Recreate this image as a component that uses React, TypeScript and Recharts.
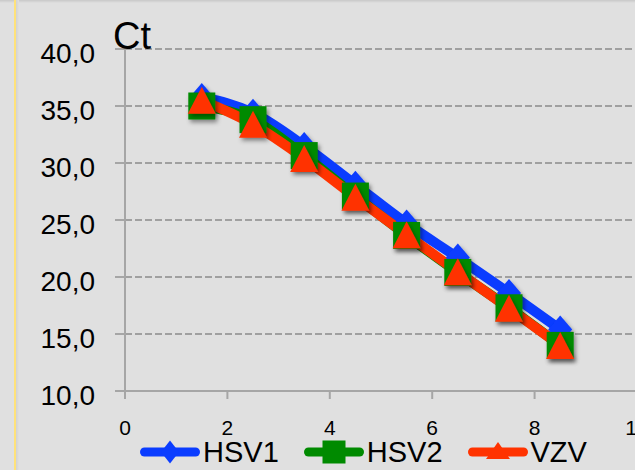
import React from 'react';
import { LineChart, Line, XAxis, YAxis, CartesianGrid, Legend, Label } from 'recharts';

const xValues = [1.5, 2.5, 3.5, 4.5, 5.5, 6.5, 7.5, 8.5];
const hsv1 = [35.8, 34.4, 31.5, 28.1, 24.7, 21.7, 18.6, 15.4];
const hsv2 = [35.0, 33.8, 30.65, 27.1, 23.65, 20.4, 17.3, 14.0];
const vzv = [35.5, 33.4, 30.4, 27.0, 23.7, 20.45, 17.25, 14.0];
const xTicks = [0, 2, 4, 6, 8, 10];
const yTicks = [10, 15, 20, 25, 30, 35, 40];
const seriesNames = ['HSV1', 'HSV2', 'VZV'];
const axisTitle = 'Ct';

const data = xValues.map((x, i) => ({ x, HSV1: hsv1[i], HSV2: hsv2[i], VZV: vzv[i] }));

const colors: Record<string, string> = { HSV1: '#0a3cff', HSV2: '#008a00', VZV: '#ff3300' };
const shapes: Record<string, string> = { HSV1: 'diamond', HSV2: 'square', VZV: 'triangle' };

const FONT = '"Liberation Sans", Arial, sans-serif';

function Marker({ cx, cy, shape, fill, scale = 1, shadow = true }: any) {
  const f = shadow ? 'url(#mkshadow)' : undefined;
  if (shape === 'diamond') {
    const w = 12 * scale, h = 14 * scale;
    return <path d={`M${cx},${cy - h} L${cx + w},${cy} L${cx},${cy + h} L${cx - w},${cy} Z`} fill={fill} filter={f} />;
  }
  if (shape === 'square') {
    const s = 13.5 * scale;
    return <rect x={cx - s} y={cy - s} width={2 * s} height={2 * s} fill={fill} filter={f} />;
  }
  const s = 14 * scale;
  return <path d={`M${cx},${cy - 13.5 * scale} L${cx + s},${cy + 13.5 * scale} L${cx - s},${cy + 13.5 * scale} Z`} fill={fill} filter={f} />;
}

const makeDot = (name: string) => (p: any) => (
  <Marker key={`${name}-${p.index}`} cx={p.cx} cy={p.cy} shape={shapes[name]} fill={colors[name]} />
);

const YTick = ({ x, y, payload }: any) => (
  <text x={x} y={y + 4} textAnchor="end" dominantBaseline="central" fontSize={28} fill="#000" fontFamily={FONT}>
    {Number(payload.value).toFixed(1).replace('.', ',')}
  </text>
);

const XTick = ({ x, y, payload }: any) => (
  <text x={x} y={y} dy="0.71em" textAnchor="middle" fontSize={21} fill="#000" fontFamily={FONT}>
    {payload.value}
  </text>
);

const LegendContent = () => (
  <div style={{ display: 'flex', alignItems: 'center', height: 30, paddingLeft: 140, fontFamily: FONT }}>
    {seriesNames.map((n) => (
      <div key={n} style={{ display: 'flex', alignItems: 'center' }}>
        <svg width={60} height={30} style={{ display: 'block', overflow: 'visible' }}>
          <line x1={4.5} x2={55.5} y1={15} y2={15} stroke={colors[n]} strokeWidth={9} strokeLinecap="round" />
          {shapes[n] === 'triangle' ? (
            <path d="M30,5 L42,22 L18,22 Z" fill={colors[n]} />
          ) : shapes[n] === 'square' ? (
            <rect x={18.5} y={3.5} width={23} height={23} fill={colors[n]} />
          ) : (
            <path d="M30,3.5 L39,15 L30,26.5 L21,15 Z" fill={colors[n]} />
          )}
        </svg>
        <span style={{ marginLeft: 3, marginRight: 25, fontSize: 29, lineHeight: '30px', color: '#000' }}>{n}</span>
      </div>
    ))}
  </div>
);

export default function App() {
  return (
    <div
      style={{
        position: 'absolute',
        left: 0,
        top: 0,
        width: 635,
        height: 470,
        overflow: 'hidden',
        background: '#e0e0e0',
        fontFamily: FONT,
      }}
    >
      <svg width={0} height={0} style={{ position: 'absolute' }}>
        <defs>
          <filter id="mkshadow" x="-50%" y="-50%" width="200%" height="200%">
            <feDropShadow dx={2} dy={3} stdDeviation={2} floodColor="#000" floodOpacity={0.4} />
          </filter>
        </defs>
      </svg>
      <div style={{ position: 'absolute', left: 0, top: 0, width: 635, height: 3, background: 'linear-gradient(#c8c8c8, #e0e0e0)' }} />
      <div style={{ position: 'absolute', left: 14, top: 0, width: 2, height: 470, background: '#ffe27a' }} />
      <div style={{ position: 'absolute', left: 16, top: 0, width: 3, height: 470, background: 'linear-gradient(90deg, #d2d2d2, #e0e0e0)' }} />
      <div style={{ position: 'absolute', left: 0, top: 0 }}>
        <LineChart width={700} height={470} data={data} margin={{ top: 49, right: 63, left: 0, bottom: 0 }}>
          <CartesianGrid vertical={false} stroke="#a0a0a0" strokeWidth={2} strokeDasharray="7 3" />
          <XAxis
            dataKey="x"
            type="number"
            domain={[0, 10]}
            ticks={xTicks}
            interval={0}
            height={79}
            tickSize={8}
            tickMargin={21}
            axisLine={{ stroke: '#a6a6a6', strokeWidth: 2 }}
            tickLine={{ stroke: '#a6a6a6', strokeWidth: 2 }}
            tick={<XTick />}
          />
          <YAxis
            type="number"
            domain={[10, 40]}
            ticks={yTicks}
            interval={0}
            width={125}
            tickSize={10}
            tickMargin={20}
            axisLine={{ stroke: '#a6a6a6', strokeWidth: 2 }}
            tickLine={{ stroke: '#a6a6a6', strokeWidth: 2 }}
            tick={<YTick />}
          >
            <Label
              content={({ viewBox }: any) => (
                <text x={viewBox.x + viewBox.width - 12} y={viewBox.y} fontSize={38} fill="#000" fontFamily={FONT}>
                  {axisTitle}
                </text>
              )}
            />
          </YAxis>
          {seriesNames.map((n) => (
            <Line
              key={n}
              dataKey={n}
              type="monotone"
              stroke={colors[n]}
              strokeWidth={10}
              dot={makeDot(n)}
              activeDot={false}
              isAnimationActive={false}
            />
          ))}
          <Legend
            layout="vertical"
            align="center"
            verticalAlign="middle"
            wrapperStyle={{ position: 'absolute', left: 0, top: 437, width: 635, height: 30 }}
            content={<LegendContent />}
          />
        </LineChart>
      </div>
    </div>
  );
}
